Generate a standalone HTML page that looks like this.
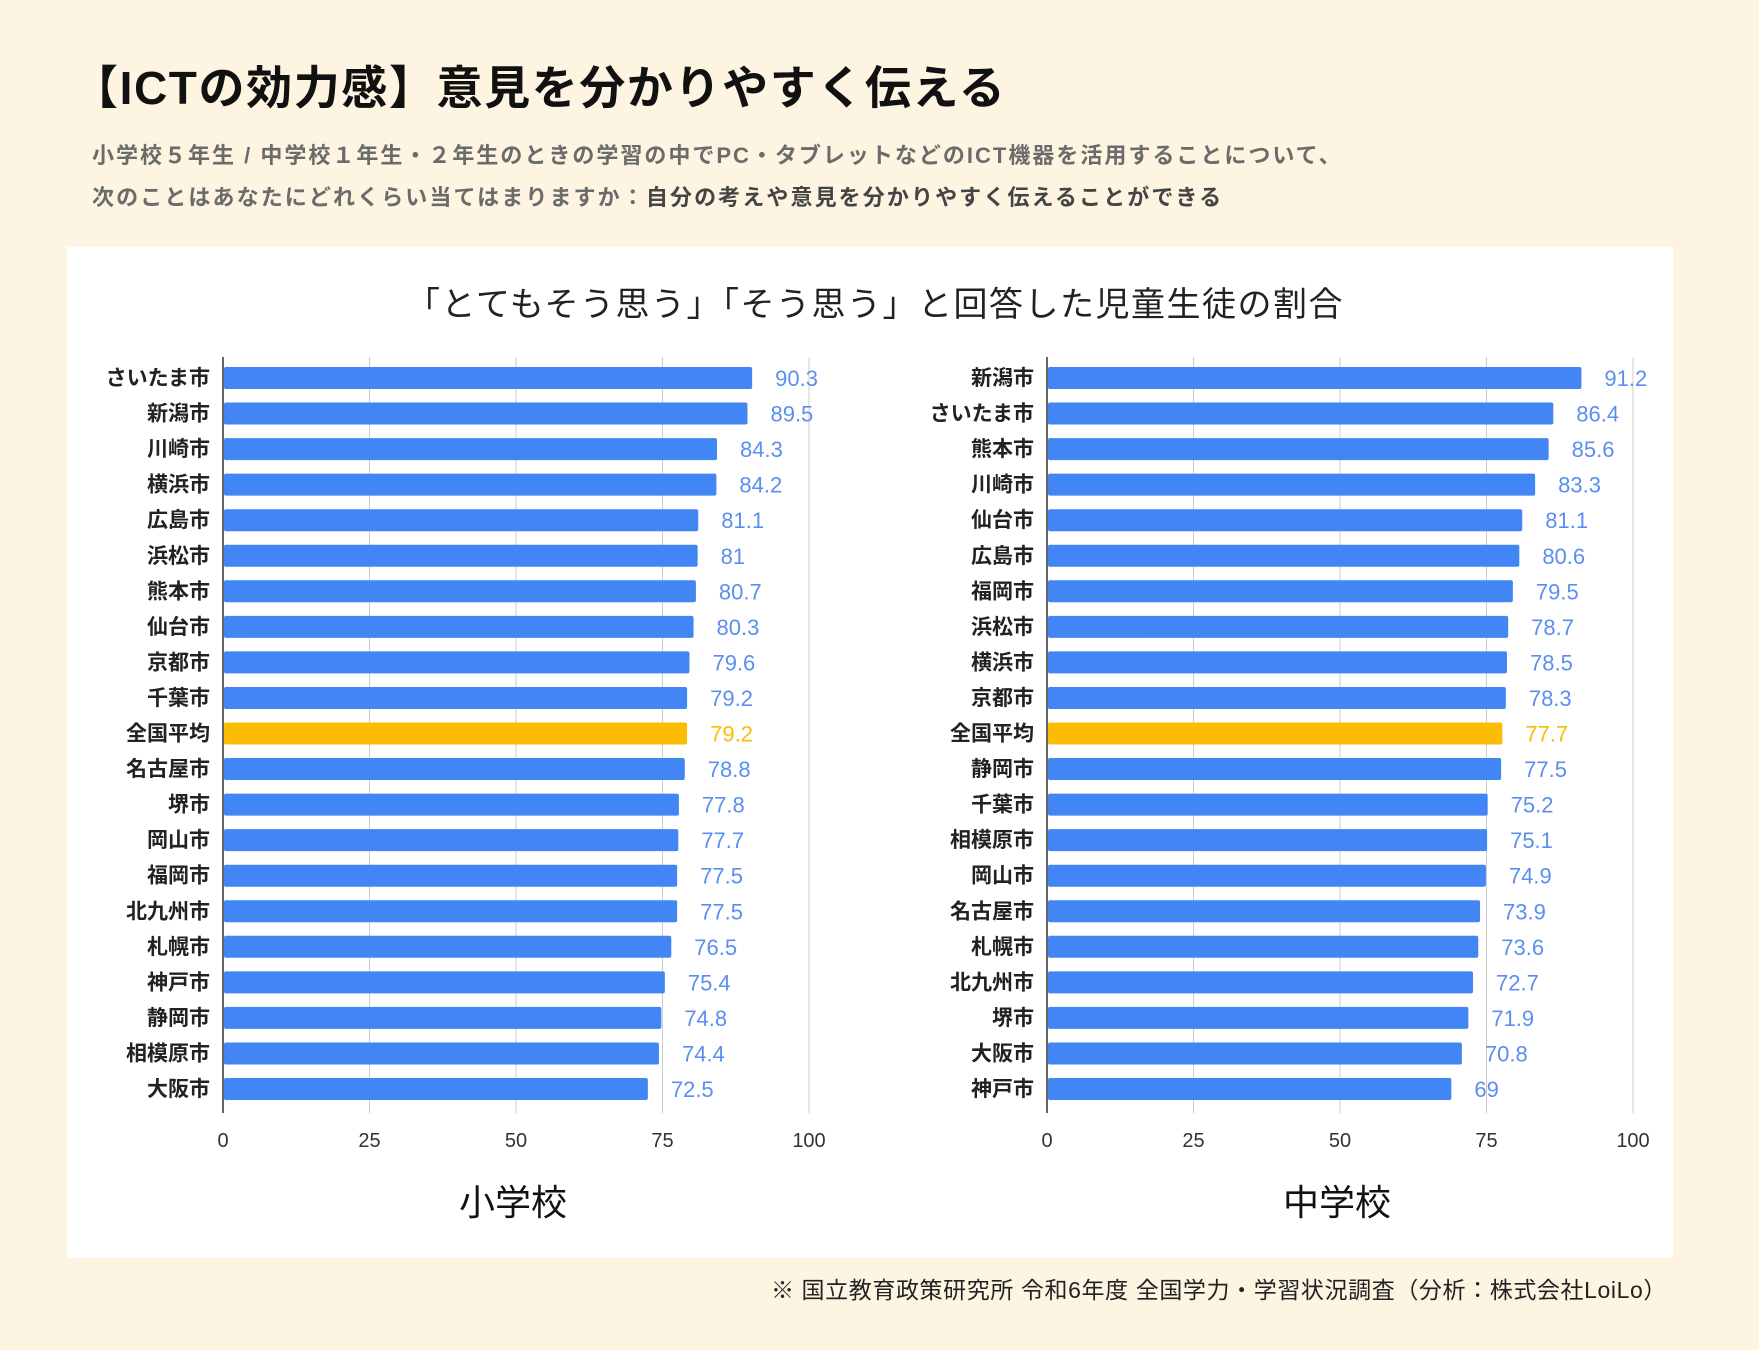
<!DOCTYPE html>
<html><head><meta charset="utf-8"><style>
body{margin:0;width:1759px;height:1350px;background:#fdf5e1;font-family:"Liberation Sans","Noto Sans CJK JP",sans-serif;position:relative;overflow:hidden}
.t{position:absolute;white-space:nowrap}
</style></head><body>
<div class="t" style="left:72px;top:52px;font-size:46px;letter-spacing:1.6px;font-weight:bold;color:#111">【ICTの効力感】意見を分かりやすく伝える</div>
<div class="t" style="left:92px;top:138px;font-size:22px;letter-spacing:2px;font-weight:bold;color:#6b6b6b">小学校５年生 / 中学校１年生・２年生のときの学習の中でPC・タブレットなどのICT機器を活用することについて、</div>
<div class="t" style="left:92px;top:180px;font-size:22px;letter-spacing:2.1px;font-weight:bold;color:#6b6b6b">次のことはあなたにどれくらい当てはまりますか：<span style="color:#444">自分の考えや意見を分かりやすく伝えることができる</span></div>
<div style="position:absolute;left:67px;top:247px;width:1606px;height:1011px;background:#fff"></div>
<svg id="chart" width="1759" height="1350" style="position:absolute;left:0;top:0" font-family="Liberation Sans, Noto Sans CJK JP, sans-serif"></svg>
<div class="t" style="right:92px;top:1271px;font-size:23px;letter-spacing:0.6px;color:#222">※ 国立教育政策研究所 令和6年度 全国学力・学習状況調査（分析：株式会社LoiLo）</div>
<script>
const elemCats=["さいたま市","新潟市","川崎市","横浜市","広島市","浜松市","熊本市","仙台市","京都市","千葉市","全国平均","名古屋市","堺市","岡山市","福岡市","北九州市","札幌市","神戸市","静岡市","相模原市","大阪市"];
const elemVals=[90.3,89.5,84.3,84.2,81.1,81,80.7,80.3,79.6,79.2,79.2,78.8,77.8,77.7,77.5,77.5,76.5,75.4,74.8,74.4,72.5];
const midCats=["新潟市","さいたま市","熊本市","川崎市","仙台市","広島市","福岡市","浜松市","横浜市","京都市","全国平均","静岡市","千葉市","相模原市","岡山市","名古屋市","札幌市","北九州市","堺市","大阪市","神戸市"];
const midVals=[91.2,86.4,85.6,83.3,81.1,80.6,79.5,78.7,78.5,78.3,77.7,77.5,75.2,75.1,74.9,73.9,73.6,72.7,71.9,70.8,69];
const ticks=[0,25,50,75,100];
const NS="http://www.w3.org/2000/svg";
const svg=document.getElementById('chart');
function mk(tag,a,txt){const e=document.createElementNS(NS,tag);for(const k in a)e.setAttribute(k,a[k]);if(txt!==undefined)e.textContent=txt;svg.appendChild(e);return e;}
const t=mk('text',{x:875,y:316,'font-size':34,'letter-spacing':1.5,'text-anchor':'middle',fill:'#222'},'「とてもそう思う」「そう思う」と回答した児童生徒の割合');


function draw(cats,vals,x0,x100,label,key){
  const xs=v=>x0+(x100-x0)*v/100;
  const ys=i=>378+i*35.55;
  ticks.forEach(tv=>{
    const g=mk('line',{x1:xs(tv),x2:xs(tv),y1:357,y2:1113,stroke:tv===0?'#333':'#ccc','stroke-width':tv===0?1.5:1});
    
    
    const tl=mk('text',{x:xs(tv),y:1147,'font-size':20,'text-anchor':'middle',fill:'#333'},tv);
    
    
  });
  cats.forEach((c,i)=>{
    const avg=c==='全国平均';
    const col=avg?'#fbbc04':'#4285f4';
    const b=mk('rect',{x:xs(0)+1,y:ys(i)-11,width:xs(vals[i])-xs(0)-1,height:22,rx:2,fill:col});
    
    
    const cl=mk('text',{x:xs(0)-13,y:ys(i)+7,'font-size':21,'text-anchor':'end',fill:'#222','font-weight':'bold'},c);
    
    
    const vl=mk('text',{x:xs(vals[i])+23,y:ys(i)+8,'font-size':22,fill:avg?'#fbbc04':'#5b8ef0'},vals[i]);
    
    
  });
  const lb=mk('text',{x:(x0+x100)/2-3,y:1215,'font-size':36,'text-anchor':'middle',fill:'#111'},label);
  
  
}
draw(elemCats,elemVals,223,809,'小学校','elementary');
draw(midCats,midVals,1047,1633,'中学校','middle');
</script>
</body></html>
